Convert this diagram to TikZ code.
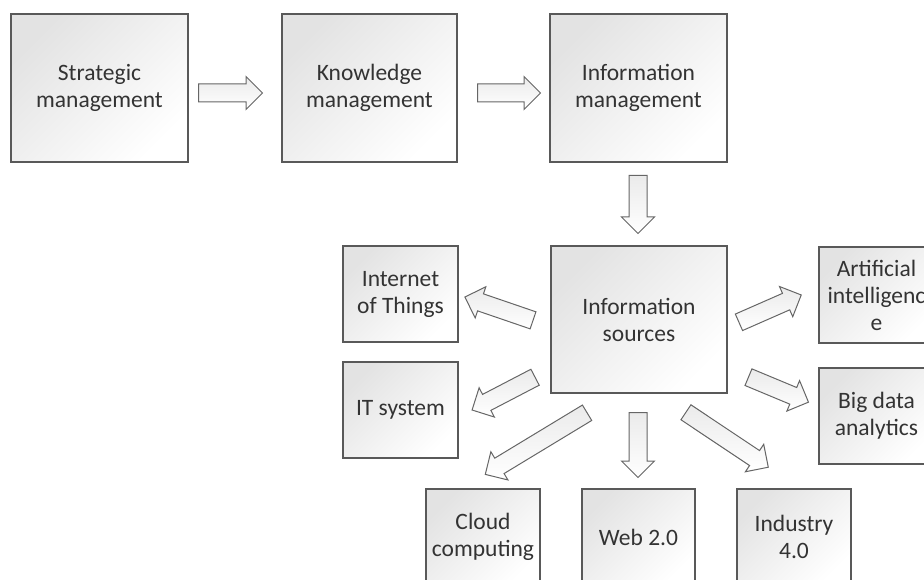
\documentclass[tikz,border=0pt]{standalone}
\usepackage{fontspec}
\setmainfont{Carlito}
\usetikzlibrary{shapes.arrows}
\begin{document}
\begin{tikzpicture}[x=1pt, y=-1pt,
    box/.style={draw=black!65, line width=1.2pt, top color=black!11, bottom color=white, shading angle=45,
        align=center, text=black!80, font=\fontsize{23.5}{27}\selectfont, inner sep=0pt},
    bigbox/.style={box, minimum width=177pt, minimum height=148pt},
    smallbox/.style={box, minimum width=115pt, minimum height=96pt},
    blockarrow/.style={single arrow, draw=black!60, line width=1pt, top color=black!8, bottom color=white,
        inner xsep=0pt, inner ysep=8.5pt, single arrow head extend=7.5pt, anchor=tail}]
    \useasboundingbox (0,0) rectangle (924,580);
    \clip (0,0) rectangle (924,580);

    % top row
    \node[bigbox] (strat) at (99.5,88) {Strategic\\management};
    \node[bigbox, minimum width=175pt] (know) at (369.5,88) {Knowledge\\management};
    \node[bigbox] (infomgmt) at (638.5,88) {Information\\management};
    \node[bigbox, minimum width=176pt, minimum height=147pt] (infosrc) at (639,319.5) {Information\\sources};

    % sources
    \node[smallbox] (iot) at (400.5,294) {Internet\\of Things};
    \node[smallbox] (itsys) at (400.5,410) {IT system};
    \node[smallbox] (ai) at (876.5,295) {Artificial\\intelligenc\\e};
    \node[smallbox] (bigdata) at (876.5,416) {Big data\\analytics};
    \node[smallbox, minimum width=114pt] (cloud) at (483,537) {Cloud\\computing};
    \node[smallbox, minimum width=113pt] (web) at (638.5,537) {Web 2.0};
    \node[smallbox, minimum width=114pt] (industry) at (794,537) {Industry\\4.0};

    % block arrows, placed by their tails
    \node[blockarrow, minimum height=64pt] (a1) at (198,93) {};
    \node[blockarrow, minimum height=63pt] (a2) at (477,93) {};
    \node[blockarrow, minimum height=58pt, rotate=270] (a3) at (638,175) {};
    \node[blockarrow, minimum height=72pt, rotate=161.1] (toiot) at (533.5,320.5) {};
    \node[blockarrow, minimum height=71pt, rotate=207.5] (toit) at (535.5,377) {};
    \node[blockarrow, minimum height=119pt, rotate=211.2] (tocloud) at (587.5,412.5) {};
    \node[blockarrow, minimum height=65pt, rotate=270] (toweb) at (638,412) {};
    \node[blockarrow, minimum height=99pt, rotate=-33.7] (toindustry) at (685.5,412) {};
    \node[blockarrow, minimum height=68pt, rotate=23.7] (toai) at (738.5,322.5) {};
    \node[blockarrow, minimum height=65pt, rotate=-22.6] (tobigdata) at (748,377) {};
\end{tikzpicture}
\end{document}
